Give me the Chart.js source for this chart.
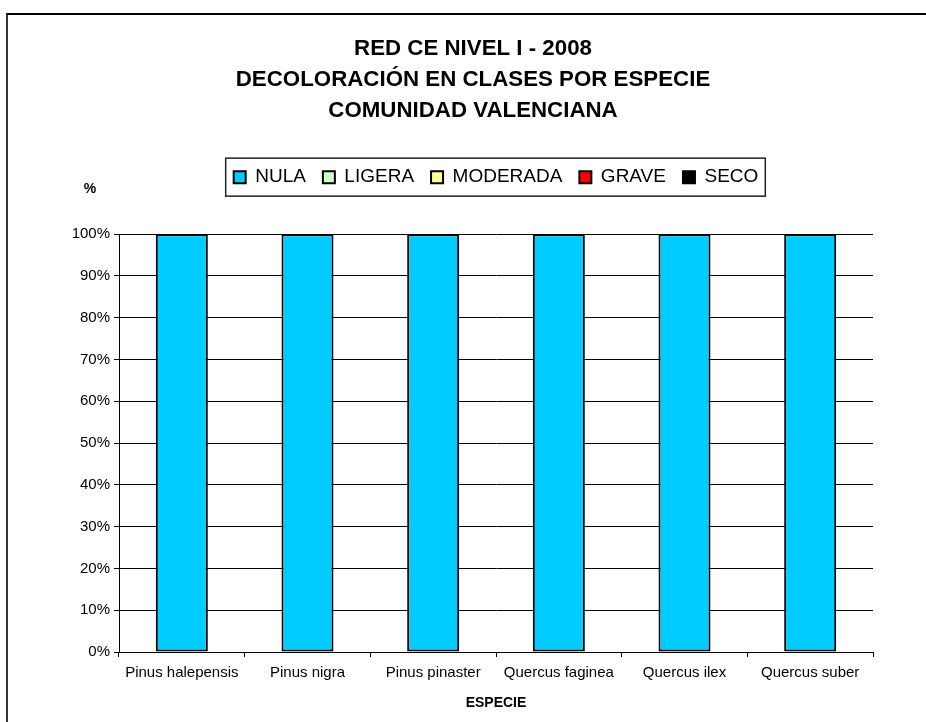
<!DOCTYPE html>
<html>
<head>
<meta charset="utf-8">
<script src="https://cdn.jsdelivr.net/npm/chart.js@4.4.1/dist/chart.umd.min.js"></script>
<style>
  html, body { margin: 0; padding: 0; background: #fff; overflow: hidden; }
  #wrap { position: relative; width: 926px; height: 722px; }
  #frame { position: absolute; left: 6px; top: 13px; width: 1000px; height: 1000px;
           border-left: 2px solid #333; border-top: 2px solid #000; }
  canvas { position: absolute; left: 0; top: 0; }
</style>
</head>
<body>
<div id="wrap">
  <div id="frame"></div>
  <canvas id="chart" width="926" height="722"></canvas>
</div>
<script>
// Datos del gráfico
const especies = ['Pinus halepensis', 'Pinus nigra', 'Pinus pinaster', 'Quercus faginea', 'Quercus ilex', 'Quercus suber'];
const nula     = [100, 100, 100, 100, 100, 100];
const ligera   = [0, 0, 0, 0, 0, 0];
const moderada = [0, 0, 0, 0, 0, 0];
const grave    = [0, 0, 0, 0, 0, 0];
const seco     = [0, 0, 0, 0, 0, 0];
const titulo = ['RED CE NIVEL I - 2008', 'DECOLORACIÓN EN CLASES POR ESPECIE', 'COMUNIDAD VALENCIANA'];

const FONT = "'Liberation Sans', Arial, sans-serif";
Chart.defaults.color = '#000';
Chart.defaults.font.family = FONT;

const serie = (label, data, color) => ({
  label, data,
  backgroundColor: color,
  borderColor: '#000',
  borderWidth: 2,
  borderSkipped: false
});

// marco de la leyenda y etiqueta "%"
const extras = {
  id: 'extras',
  afterDraw(chart) {
    const ctx = chart.ctx;
    const hb = chart.legend.legendHitBoxes;
    if (hb && hb.length) {
      const first = hb[0], last = hb[hb.length - 1];
      const cy = first.top + first.height / 2;
      ctx.save();
      ctx.strokeStyle = '#222';
      ctx.lineWidth = 1.5;
      ctx.strokeRect(first.left - 8, cy - 19, last.left + last.width + 7 - (first.left - 8), 38);
      ctx.restore();
    }
    ctx.save();
    ctx.font = 'bold 14px ' + FONT;
    ctx.fillStyle = '#000';
    ctx.textAlign = 'center';
    ctx.textBaseline = 'middle';
    ctx.fillText('%', 90, 189);
    ctx.restore();
  }
};

new Chart(document.getElementById('chart'), {
  type: 'bar',
  data: {
    labels: especies,
    datasets: [
      serie('NULA', nula, '#00CCFF'),
      serie('LIGERA', ligera, '#CCFFCC'),
      serie('MODERADA', moderada, '#FFFF99'),
      serie('GRAVE', grave, '#FF0000'),
      serie('SECO', seco, '#000000')
    ]
  },
  options: {
    responsive: false,
    animation: false,
    datasets: { bar: { categoryPercentage: 1, barPercentage: 0.414 } },
    layout: { padding: { left: 73, right: 53, top: 0, bottom: 0 } },
    plugins: {
      title: {
        display: true,
        text: titulo,
        font: { size: 22.3, weight: 'bold', lineHeight: 1.4 },
        padding: { top: 33, bottom: 24 }
      },
      legend: {
        display: true,
        fullSize: false,
        labels: {
          boxWidth: 12,
          boxHeight: 12,
          padding: 17,
          font: { size: 19 }
        }
      },
      subtitle: {
        display: true,
        text: ' ',
        weight: 500,
        font: { size: 10, lineHeight: 1 },
        padding: { top: 0, bottom: 27.5 }
      },
      tooltip: { enabled: false }
    },
    scales: {
      x: {
        stacked: true,
        afterFit: (s) => { s.height = 70; },
        grid: {
          offset: true,
          drawOnChartArea: true,
          color: (c) => c.index === especies.length ? '#000' : 'rgba(0,0,0,0)',
          tickColor: '#000',
          tickLength: 5,
          lineWidth: 1
        },
        border: { display: true, color: '#000', width: 1 },
        ticks: { font: { size: 15 }, padding: 7, maxRotation: 0 },
        title: {
          display: true,
          text: 'ESPECIE',
          font: { size: 14, weight: 'bold' },
          padding: { top: 4, bottom: 10 }
        }
      },
      y: {
        stacked: true,
        min: 0,
        max: 100,
        afterFit: (s) => { s.width = 46; },
        grid: { color: '#000', lineWidth: 1, tickLength: 5, tickColor: '#000' },
        border: { display: true, color: '#000', width: 1 },
        ticks: {
          stepSize: 10,
          padding: 4,
          font: { size: 15 },
          callback: (v) => v + '%'
        }
      }
    }
  },
  plugins: [extras]
});
</script>
</body>
</html>
